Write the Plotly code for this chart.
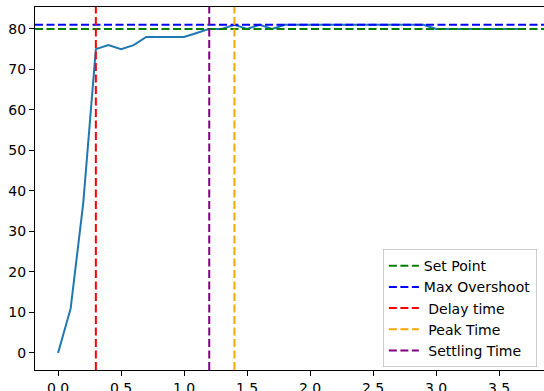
import plotly.graph_objects as go

time = [0.0, 0.1, 0.2, 0.3, 0.4, 0.5, 0.6, 0.7, 0.8, 0.9, 1.0, 1.1, 1.2, 1.3, 1.4,
        1.5, 1.6, 1.7, 1.8, 1.9, 2.0, 2.1, 2.2, 2.3, 2.4, 2.5, 2.6, 2.7, 2.8, 2.9,
        3.0, 3.1, 3.2, 3.3, 3.4, 3.5, 3.6, 3.7]
response = [0, 11, 37, 75, 76, 75, 76, 78, 78, 78, 78, 79, 80, 80, 81,
            80, 81, 80, 81, 81, 81, 81, 81, 81, 81, 81, 81, 81, 81, 81,
            80, 80, 80, 80, 80, 80, 80, 80]

set_point = 80
max_overshoot = 81
delay_time = 0.3
peak_time = 1.4
settling_time = 1.2

x_ticks = [0.0, 0.5, 1.0, 1.5, 2.0, 2.5, 3.0, 3.5]
y_ticks = [0, 10, 20, 30, 40, 50, 60, 70, 80]

FONT = "DejaVu Sans"
fig = go.Figure()
fig.add_trace(go.Scatter(x=time, y=response, mode="lines",
                         line=dict(color="#1f77b4", width=2), showlegend=False))

dash = "8px,3.5px"
fig.add_hline(y=set_point, line=dict(color="green", width=2, dash=dash),
              showlegend=True, name="Set Point", legendrank=1)
fig.add_hline(y=max_overshoot, line=dict(color="blue", width=2, dash=dash),
              showlegend=True, name="Max Overshoot", legendrank=2)
fig.add_vline(x=delay_time, line=dict(color="red", width=2, dash=dash),
              showlegend=True, name=" Delay time", legendrank=3)
fig.add_vline(x=peak_time, line=dict(color="orange", width=2, dash=dash),
              showlegend=True, name=" Peak Time", legendrank=4)
fig.add_vline(x=settling_time, line=dict(color="purple", width=2, dash=dash),
              showlegend=True, name=" Settling Time", legendrank=5)

axis_common = dict(showgrid=False, zeroline=False, showline=True, linecolor="black",
                   linewidth=1, mirror=True, ticks="outside", ticklen=5,
                   tickcolor="black", tickwidth=1, automargin=False,
                   tickfont=dict(family=FONT, size=14, color="black"))
fig.update_xaxes(range=[-0.183, 3.857], tickvals=x_ticks,
                 ticktext=[f"{v:.1f}" for v in x_ticks], **axis_common)
fig.update_yaxes(range=[-4.2, 85.4], tickvals=y_ticks,
                 ticktext=[str(v) for v in y_ticks], **axis_common)

fig.update_layout(
    width=544, height=391,
    margin=dict(l=35, r=0, t=7, b=21, autoexpand=False),
    plot_bgcolor="white", paper_bgcolor="white",
    font=dict(family=FONT, size=14, color="black"),
    legend=dict(x=0.986, y=0.008, xanchor="right", yanchor="bottom",
                bgcolor="rgba(255,255,255,0.8)", bordercolor="#cccccc",
                borderwidth=1, font=dict(family=FONT, size=14),
                tracegroupgap=0, itemwidth=30),
)

fig.write_html("out.html", config={"displayModeBar": False},
               post_script="document.body.style.margin='0';document.body.style.overflow='hidden';")
